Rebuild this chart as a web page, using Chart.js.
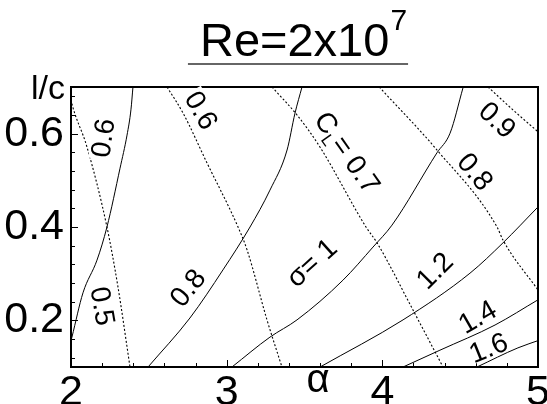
<!DOCTYPE html>
<html>
<head>
<meta charset="utf-8">
<script src="https://cdn.jsdelivr.net/npm/chart.js@4.4.1/dist/chart.umd.min.js"></script>
<style>
  html, body { margin: 0; padding: 0; background: #fff; }
  #wrap { width: 547px; height: 404px; }
</style>
</head>
<body>
<div id="wrap"><canvas id="chart" width="547" height="404"></canvas></div>
<script>
// angle of attack (alpha) vs l/c, Re = 2x10^7
const xTicks = [2, 3, 4, 5];
const yTicks = [0.2, 0.4, 0.6];

// sigma contours (solid), points are [alpha, l/c]
const sigma06 = [[1.98, 0.13], [2.006, 0.164], [2.077, 0.259], [2.167, 0.329], [2.231, 0.40], [2.315, 0.526], [2.36, 0.597], [2.385, 0.651], [2.398, 0.70]];
const sigma08 = [[2.495, 0.10], [2.764, 0.205], [2.976, 0.308], [3.15, 0.40], [3.278, 0.479], [3.388, 0.565], [3.439, 0.644], [3.484, 0.70]];
const sigma10 = [[3.034, 0.10], [3.278, 0.164], [3.452, 0.201], [3.747, 0.286], [3.94, 0.357], [4.062, 0.404], [4.351, 0.559], [4.435, 0.601], [4.518, 0.698]];
const sigma12 = [[3.60, 0.10], [4.133, 0.201], [4.563, 0.301], [4.775, 0.366], [5.0, 0.443]];
const sigma14 = [[4.133, 0.10], [4.37, 0.136], [4.724, 0.19], [5.0, 0.244]];
const sigma16 = [[4.608, 0.10], [4.871, 0.141], [5.013, 0.158]];

// lift coefficient contours (dashed)
const cl05 = [[1.99, 0.69], [2.0, 0.672], [2.103, 0.571], [2.231, 0.40], [2.302, 0.271], [2.379, 0.10]];
const cl06 = [[2.617, 0.70], [2.72, 0.644], [2.874, 0.537], [3.073, 0.40], [3.131, 0.351], [3.259, 0.201], [3.355, 0.10]];
const cl07 = [[3.291, 0.70], [3.452, 0.64], [3.60, 0.571], [3.895, 0.40], [3.966, 0.366], [4.197, 0.222], [4.39, 0.10]];
const cl08 = [[3.98, 0.70], [4.351, 0.565], [4.737, 0.40], [4.775, 0.372], [5.0, 0.265]];
const cl09 = [[4.679, 0.70], [4.839, 0.651], [5.0, 0.604]];

// inline contour labels
const labelText  = ['0.6', '0.8', 'σ= 1', '1.2', '1.4', '1.6', '0.5', '0.6', 'C_L= 0.7', '0.8', '0.9'];
const labelAlpha = [2.199, 2.745, 3.542, 4.332, 4.608, 4.679, 2.209, 2.842, 3.779, 4.602, 4.743];
const labelLc    = [0.591, 0.271, 0.325, 0.308, 0.209, 0.143, 0.231, 0.651, 0.561, 0.520, 0.631];
const labelAngle = [-82, -51, -42, -45, -30, -22, 80, 60, 55, 50, 43];

const FONT = '"Liberation Sans", Arial, Helvetica, sans-serif';

function toXY(pts) {
  return pts.map(p => ({ x: p[0], y: p[1] }));
}

function line(pts, dashed) {
  return {
    data: toXY(pts),
    showLine: true,
    borderColor: '#000',
    borderWidth: dashed ? 1.1 : 1,
    borderDash: dashed ? [2, 2] : [],
    pointRadius: 0,
    cubicInterpolationMode: 'monotone'
  };
}

// draws text with "_X" as a subscript run
function drawRuns(ctx, text, size) {
  const runs = [];
  const m = text.match(/^(.*?)_(.)(.*)$/);
  if (m) {
    runs.push({ t: m[1], sub: false }, { t: m[2], sub: true }, { t: m[3], sub: false });
  } else {
    runs.push({ t: text, sub: false });
  }
  const subSize = Math.round(size * 0.62);
  let w = 0;
  runs.forEach(r => {
    ctx.font = (r.sub ? subSize : size) + 'px ' + FONT;
    r.w = ctx.measureText(r.t).width;
    w += r.w;
  });
  const h = size * 0.78;
  ctx.fillStyle = '#fff';
  ctx.fillRect(-w / 2 - 2, -h / 2, w + 4, h);
  ctx.fillStyle = '#000';
  ctx.textBaseline = 'alphabetic';
  ctx.textAlign = 'left';
  let x = -w / 2;
  const base = size * 0.358;
  runs.forEach(r => {
    ctx.font = (r.sub ? subSize : size) + 'px ' + FONT;
    ctx.fillText(r.t, x, r.sub ? base + size * 0.2 : base);
    x += r.w;
  });
}

const decorations = {
  id: 'decorations',
  afterDatasetsDraw(chart) {
    const { ctx, chartArea: a, scales: { x, y } } = chart;
    ctx.save();

    // frame
    ctx.strokeStyle = '#000';
    ctx.lineWidth = 2;
    ctx.strokeRect(a.left, a.top, a.right - a.left, a.bottom - a.top);

    // inward tick marks
    ctx.lineWidth = 1;
    ctx.beginPath();
    x.ticks.forEach(t => {
      const px = Math.round(x.getPixelForValue(t.value)) + 0.5;
      const len = t.label ? 7 : 4;
      ctx.moveTo(px, a.bottom);
      ctx.lineTo(px, a.bottom - len);
    });
    y.ticks.forEach(t => {
      const py = Math.round(y.getPixelForValue(t.value)) + 0.5;
      const len = t.label ? 7 : 4;
      ctx.moveTo(a.left, py);
      ctx.lineTo(a.left + len, py);
    });
    ctx.stroke();

    // contour labels
    labelText.forEach((txt, i) => {
      ctx.save();
      ctx.translate(x.getPixelForValue(labelAlpha[i]), y.getPixelForValue(labelLc[i]));
      ctx.rotate(labelAngle[i] * Math.PI / 180);
      drawRuns(ctx, txt, 28);
      ctx.restore();
    });

    // axis titles
    ctx.fillStyle = '#000';
    ctx.textBaseline = 'alphabetic';
    ctx.font = '34px ' + FONT;
    ctx.textAlign = 'right';
    ctx.fillText('l/c', 65, 99);
    ctx.font = '40px ' + FONT;
    ctx.textAlign = 'center';
    ctx.fillText('α', 318, 392);

    // title with exponent and underline
    const main = 'Re=2x10', exp = '7';
    ctx.font = '47px ' + FONT;
    const w1 = ctx.measureText(main).width;
    ctx.font = '30px ' + FONT;
    const w2 = ctx.measureText(exp).width;
    const x0 = 303 - (w1 + w2) / 2;
    ctx.textAlign = 'left';
    ctx.font = '47px ' + FONT;
    ctx.fillText(main, x0, 56);
    ctx.font = '30px ' + FONT;
    ctx.fillText(exp, x0 + w1 + 1, 30);
    ctx.strokeStyle = '#666';
    ctx.lineWidth = 2;
    ctx.beginPath();
    ctx.moveTo(x0 - 12, 64);
    ctx.lineTo(x0 + w1 + w2 + 2, 64);
    ctx.stroke();

    ctx.restore();
  }
};

function isLabeled(v, list) {
  return list.some(t => Math.abs(t - v) < 1e-6);
}

new Chart(document.getElementById('chart'), {
  type: 'scatter',
  data: {
    datasets: [
      line(sigma06, false), line(sigma08, false), line(sigma10, false),
      line(sigma12, false), line(sigma14, false), line(sigma16, false),
      line(cl05, true), line(cl06, true), line(cl07, true),
      line(cl08, true), line(cl09, true)
    ]
  },
  options: {
    responsive: false,
    animation: false,
    layout: { padding: { top: 87, right: 9, left: 0, bottom: 0 } },
    plugins: { legend: { display: false }, tooltip: { enabled: false } },
    scales: {
      x: {
        type: 'linear', min: 2, max: 5,
        grid: { display: false, drawTicks: false },
        border: { display: false },
        afterBuildTicks: s => {
          const t = [];
          for (let i = 0; i <= 15; i++) t.push({ value: Math.round((2 + i * 0.2) * 100) / 100 });
          s.ticks = t;
        },
        afterFit: s => { s.height = 37; s.paddingLeft = 0; s.paddingRight = 0; },
        ticks: {
          autoSkip: false, maxRotation: 0, padding: 0,
          color: '#000', font: { family: FONT, size: 43 },
          callback: v => isLabeled(v, xTicks) ? String(v) : ''
        }
      },
      y: {
        type: 'linear', min: 0.1, max: 0.7,
        grid: { display: false, drawTicks: false },
        border: { display: false },
        afterBuildTicks: s => {
          const t = [];
          for (let i = 0; i <= 14; i++) t.push({ value: Math.round((0.12 + i * 0.04) * 100) / 100 });
          s.ticks = t;
        },
        afterFit: s => { s.width = 71; s.paddingTop = 0; s.paddingBottom = 0; },
        ticks: {
          autoSkip: false, padding: 7,
          color: '#000', font: { family: FONT, size: 43 },
          callback: v => isLabeled(v, yTicks) ? v.toFixed(1) : ''
        }
      }
    }
  },
  plugins: [decorations]
});
</script>
</body>
</html>
